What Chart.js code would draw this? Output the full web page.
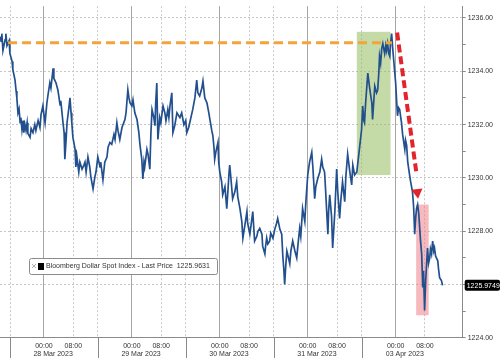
<!DOCTYPE html>
<html>
<head>
<meta charset="utf-8">
<script src="https://cdn.jsdelivr.net/npm/chart.js@4.4.0/dist/chart.umd.min.js"></script>
<style>
    html, body { margin: 0; padding: 0; background: #ffffff; }
    #wrap { width: 500px; height: 358px; }
</style>
</head>
<body>
<div id="wrap"><canvas id="chart" width="500" height="358"></canvas></div>
<script>
// hours from the left edge of the window, and the index level
var hours = [
    0.0, 0.3, 0.5, 0.8, 1.4, 1.6, 1.9, 2.5, 2.7, 3.3,
    3.5, 4.1, 4.4, 4.6, 4.9, 5.2, 5.5, 5.7, 6.0, 6.3,
    6.5, 6.8, 7.1, 7.4, 7.6, 8.2, 8.5, 9.0, 9.5, 9.8,
    10.4, 10.9, 11.2, 11.7, 12.0, 12.3, 12.8, 13.1, 13.6, 13.9,
    14.5, 14.7, 15.3, 15.8, 16.4, 16.6, 17.2, 17.5, 17.7, 18.0,
    18.3, 18.8, 19.1, 19.4, 19.6, 19.9, 20.5, 20.7, 21.0, 21.5,
    21.8, 22.4, 22.9, 23.2, 23.5, 24.0, 24.5, 24.8, 25.4, 25.9,
    26.2, 26.7, 27.3, 27.5, 28.1, 28.6, 29.2, 29.5, 30.0, 30.5,
    31.1, 31.4, 31.9, 32.2, 32.7, 33.3, 34.1, 34.4, 34.9, 35.2,
    35.5, 36.0, 36.3, 36.8, 37.4, 37.9, 38.2, 38.7, 39.0, 39.3,
    39.5, 40.1, 40.4, 40.9, 41.2, 41.5, 42.0, 42.3, 42.5, 42.8,
    43.1, 43.6, 43.9, 44.5, 45.0, 45.3, 45.8, 46.1, 46.4, 46.9,
    47.2, 47.7, 48.3, 49.1, 49.6, 50.2, 50.7, 51.0, 51.5, 51.8,
    52.4, 52.6, 53.2, 53.7, 54.0, 54.5, 55.1, 55.4, 55.9, 56.5,
    57.0, 57.3, 57.8, 58.1, 58.4, 58.6, 58.9, 59.5, 59.7, 60.0,
    60.5, 60.8, 61.4, 61.9, 62.2, 62.5, 62.7, 63.0, 63.5, 64.1,
    64.6, 64.9, 65.5, 66.0, 66.3, 66.8, 67.4, 67.6, 68.2, 68.5,
    69.0, 69.3, 69.5, 70.1, 70.4, 70.9, 71.5, 71.7, 72.3, 72.5,
    72.8, 73.1, 73.6, 73.9, 74.5, 75.0, 75.5, 75.8, 76.4, 76.9,
    77.2, 77.5, 77.7, 78.0, 78.3, 78.5, 79.1, 79.4, 79.9, 80.5,
    81.0, 81.3, 81.8, 82.1, 82.6, 83.2, 83.5, 84.0, 84.5, 85.1,
    85.4, 85.9, 86.2, 86.7, 87.3, 87.8, 88.1, 88.6, 88.9, 89.5,
    89.7, 90.0, 90.5, 90.8, 91.4, 91.9, 92.2, 92.7, 93.0, 93.5,
    94.1, 94.4, 94.9, 95.5, 96.0, 96.3, 96.8, 97.4, 98.7, 99.0,
    99.3, 99.5, 99.8, 100.4, 100.9, 101.5, 101.7, 102.0, 102.3, 102.8,
    103.1, 103.4, 103.6, 103.9, 104.2, 104.5, 105.0, 105.3, 105.5, 105.8,
    106.1, 106.4, 106.6, 106.9, 107.2, 107.7, 108.0, 108.3, 108.5, 108.8,
    109.1, 109.4, 109.6, 109.9, 110.5, 110.7, 111.0, 111.3, 111.8, 112.1,
    112.6, 112.9, 113.2, 113.5, 113.7, 114.0, 114.3, 114.5, 114.8, 115.1,
    115.4, 115.6, 115.9, 116.2, 116.5, 116.7, 117.0, 117.3, 117.5, 117.8,
    118.1, 118.4, 118.6, 118.9, 119.5, 119.7, 120.0, 120.5, 120.8
];
var prices = [
    1235.30, 1235.13, 1235.41, 1234.78, 1235.19, 1235.41, 1234.96, 1235.15, 1234.67, 1234.37,
    1234.07, 1233.67, 1233.26, 1233.00, 1232.44, 1232.59, 1232.07, 1232.26, 1231.81, 1232.15,
    1231.70, 1232.00, 1231.78, 1232.07, 1231.67, 1231.52, 1231.85, 1231.70, 1232.00, 1231.78,
    1232.15, 1231.89, 1232.37, 1232.70, 1232.37, 1232.07, 1232.81, 1233.11, 1233.56, 1233.37,
    1234.11, 1233.74, 1233.56, 1233.30, 1232.74, 1232.89, 1232.07, 1231.70, 1230.70, 1231.33,
    1232.07, 1232.63, 1233.00, 1232.44, 1232.07, 1231.52, 1231.07, 1230.41, 1230.78, 1230.22,
    1230.59, 1230.33, 1230.48, 1230.59, 1230.22, 1230.78, 1230.41, 1230.04, 1229.59, 1230.04,
    1230.22, 1230.78, 1230.41, 1230.59, 1229.93, 1230.59, 1230.78, 1231.15, 1231.33, 1231.26,
    1231.63, 1231.44, 1232.07, 1231.78, 1231.44, 1231.89, 1232.19, 1232.44, 1233.30, 1233.00,
    1232.81, 1232.70, 1232.93, 1232.44, 1232.19, 1231.70, 1231.26, 1230.70, 1229.96, 1230.59,
    1230.41, 1231.07, 1230.89, 1230.33, 1231.70, 1232.56, 1232.26, 1231.96, 1232.81, 1233.56,
    1231.44, 1232.26, 1232.07, 1232.70, 1232.44, 1232.15, 1232.56, 1232.26, 1232.70, 1233.19,
    1231.70, 1231.96, 1232.44, 1232.26, 1232.44, 1232.00, 1232.15, 1231.70, 1231.89, 1232.07,
    1232.44, 1232.56, 1233.00, 1233.67, 1233.19, 1233.07, 1233.37, 1233.63, 1233.00, 1232.81,
    1232.44, 1232.19, 1231.78, 1231.59, 1231.15, 1230.70, 1230.96, 1231.33, 1230.59, 1230.22,
    1229.85, 1229.37, 1229.67, 1228.85, 1229.48, 1230.15, 1230.48, 1230.04, 1229.22, 1229.48,
    1229.85, 1229.30, 1228.85, 1228.37, 1227.74, 1228.19, 1228.74, 1228.30, 1227.89, 1228.19,
    1228.74, 1228.07, 1227.63, 1227.81, 1228.00, 1228.11, 1227.89, 1227.44, 1227.15, 1227.44,
    1227.74, 1227.52, 1227.63, 1227.93, 1227.74, 1228.07, 1228.30, 1228.48, 1228.07, 1227.89,
    1227.07, 1226.52, 1226.00, 1226.70, 1227.26, 1227.15, 1226.78, 1227.26, 1227.63, 1227.26,
    1227.00, 1227.44, 1228.11, 1227.81, 1228.85, 1228.37, 1229.11, 1230.11, 1230.59, 1230.96,
    1230.41, 1229.22, 1229.67, 1229.96, 1230.22, 1230.70, 1230.41, 1230.22, 1229.48, 1227.89,
    1228.74, 1229.37, 1228.56, 1227.37, 1228.74, 1230.33, 1229.48, 1228.48, 1229.11, 1229.85,
    1229.11, 1230.04, 1230.89, 1230.22, 1229.74, 1230.48, 1230.11, 1230.22, 1231.81, 1232.70,
    1232.15, 1232.07, 1232.81, 1233.93, 1233.37, 1232.81, 1232.19, 1232.81, 1233.44, 1233.19,
    1233.30, 1233.93, 1234.56, 1234.30, 1234.85, 1235.04, 1234.67, 1234.96, 1234.78, 1235.04,
    1234.67, 1234.56, 1235.04, 1235.41, 1234.85, 1234.04, 1233.56, 1232.81, 1232.33, 1232.63,
    1232.56, 1232.26, 1232.07, 1231.63, 1231.07, 1231.41, 1231.22, 1230.59, 1230.11, 1229.85,
    1229.48, 1228.93, 1227.89, 1228.56, 1228.85, 1229.00, 1228.67, 1228.26, 1227.63, 1227.15,
    1225.89, 1226.52, 1225.03, 1226.15, 1226.89, 1227.37, 1226.81, 1227.00, 1227.33, 1227.15,
    1227.63, 1227.26, 1227.37, 1227.07, 1226.89, 1226.59, 1226.26, 1226.15, 1225.97
];

// x axis: 00:00 and 08:00 marks, date separators and date labels (hours)
var midnightTicks = [12, 36, 60, 84, 108];
var morningTicks = [20, 44, 68, 92, 116];
var dateSeparators = [2.75, 26.75, 50.75, 74.75, 98.75];
var dateCentres = [14.5, 38.5, 62.5, 86.5, 110.5];
var dateLabels = ['28 Mar 2023', '29 Mar 2023', '30 Mar 2023', '31 Mar 2023', '03 Apr 2023'];
var yTicks = [1224, 1225, 1226, 1227, 1228, 1229, 1230, 1231, 1232, 1233, 1234, 1235, 1236];
var yMin = 1224;
var yMax = 1236.44;

var seriesName = 'Bloomberg Dollar Spot Index - Last Price';
var legendValue = '1225.9631';
var lastPrice = 1225.9749;

// annotations drawn on top of the series (hours / index level)
var resistanceLevel = 1235.07;
var resistanceHours = [2.2, 107.0];
var arrowShaft = [[108.4, 1235.45], [113.7, 1230.15]];
var arrowTip = [113.9, 1229.46];
var greenBox = [97.4, 106.6, 1230.11, 1235.48];
var redBox = [113.6, 117.0, 1224.85, 1229.0];

var fontFamily = '"Liberation Sans", Arial, sans-serif';

function buildXTicks(scale) {
    var list = [];
    for (var i = 0; i < dateSeparators.length; i++) {
        list.push({ value: dateSeparators[i], kind: 'sep', text: '' });
        list.push({ value: midnightTicks[i], kind: 'mid', text: '00:00' });
        list.push({ value: dateCentres[i], kind: 'date', text: ['', dateLabels[i]] });
        list.push({ value: morningTicks[i], kind: 'am', text: '08:00' });
    }
    list.sort(function (a, b) { return a.value - b.value; });
    scale.ticks = list;
}

function buildYTicks(scale) {
    var list = yTicks.map(function (v) { return { value: v }; });
    // unlabelled bound, keeps the axis from reserving room above the top label
    list.push({ value: yMax, bound: true });
    scale.ticks = list;
}

function kindOf(ctx) {
    if (!ctx.tick) return '';
    return ctx.tick.kind || '';
}

var extrasPlugin = {
    id: 'extras',
    beforeDatasetsDraw: function (chart) {
        var ctx = chart.ctx;
        var x = chart.scales.x;
        var y = chart.scales.y;
        var boxes = [[greenBox, 'rgba(150, 190, 95, 0.55)'], [redBox, 'rgba(236, 128, 136, 0.55)']];
        ctx.save();
        boxes.forEach(function (b) {
            var x1 = x.getPixelForValue(b[0][0]);
            var x2 = x.getPixelForValue(b[0][1]);
            var y1 = y.getPixelForValue(b[0][3]);
            var y2 = y.getPixelForValue(b[0][2]);
            ctx.fillStyle = b[1];
            ctx.fillRect(x1, y1, x2 - x1, y2 - y1);
        });
        ctx.restore();
    },
    afterDraw: function (chart) {
        var ctx = chart.ctx;
        var area = chart.chartArea;
        var x = chart.scales.x;
        var y = chart.scales.y;
        ctx.save();

        // long separator ticks under the axis
        ctx.strokeStyle = '#8a8a8a';
        ctx.lineWidth = 1;
        dateSeparators.forEach(function (h) {
            var px = Math.round(x.getPixelForValue(h)) + 0.5;
            ctx.beginPath();
            ctx.moveTo(px, area.bottom);
            ctx.lineTo(px, chart.height);
            ctx.stroke();
        });

        // legend box
        var lx = area.left + 29, ly = 258, lw = 188, lh = 16;
        ctx.fillStyle = '#ffffff';
        ctx.strokeStyle = '#8c8c8c';
        ctx.beginPath();
        ctx.roundRect(lx + 0.5, ly + 0.5, lw, lh, 2);
        ctx.fill();
        ctx.stroke();
        ctx.strokeStyle = '#b0b0b0';
        ctx.beginPath();
        ctx.moveTo(lx + 3, ly + 6); ctx.lineTo(lx + 7, ly + 10);
        ctx.moveTo(lx + 7, ly + 6); ctx.lineTo(lx + 3, ly + 10);
        ctx.stroke();
        ctx.fillStyle = '#000000';
        ctx.fillRect(lx + 9, ly + 5, 6, 7);
        ctx.fillStyle = '#333333';
        ctx.font = '7px ' + fontFamily;
        ctx.textBaseline = 'middle';
        ctx.textAlign = 'left';
        ctx.fillText(seriesName + '  ' + legendValue, lx + 17, ly + 8.5);

        // last price tag on the right axis
        var py = y.getPixelForValue(lastPrice);
        ctx.fillStyle = '#000000';
        ctx.beginPath();
        ctx.roundRect(area.right + 2, py - 5.5, chart.width - area.right - 2, 11, 2);
        ctx.fill();
        ctx.fillStyle = '#ffffff';
        ctx.fillText(lastPrice.toFixed(4), area.right + 4, py + 0.5);
        ctx.restore();
    }
};

var points = hours.map(function (h, i) { return { x: h, y: prices[i] }; });

new Chart(document.getElementById('chart'), {
    type: 'line',
    data: {
        datasets: [
            {
                data: points,
                borderColor: '#22508e',
                borderWidth: 1.7,
                pointRadius: 0,
                tension: 0,
                order: 3
            },
            {
                data: [{ x: resistanceHours[0], y: resistanceLevel }, { x: resistanceHours[1], y: resistanceLevel }],
                borderColor: '#f2a43a',
                borderWidth: 3,
                borderDash: [9, 5],
                pointRadius: 0,
                order: 2
            },
            {
                data: [{ x: arrowShaft[0][0], y: arrowShaft[0][1] }, { x: arrowShaft[1][0], y: arrowShaft[1][1] }],
                borderColor: '#e2252d',
                borderWidth: 4,
                borderDash: [8, 4],
                pointRadius: 0,
                order: 1
            },
            {
                data: [{ x: arrowTip[0], y: arrowTip[1] }],
                showLine: false,
                pointStyle: 'triangle',
                pointRadius: 6.5,
                pointRotation: 173,
                backgroundColor: '#e2252d',
                borderColor: '#e2252d',
                borderWidth: 0,
                order: 0
            }
        ]
    },
    options: {
        responsive: false,
        animation: false,
        devicePixelRatio: 1,
        layout: { autoPadding: false, padding: { left: 0, right: 5, top: 0, bottom: 0 } },
        plugins: {
            legend: { display: false },
            tooltip: { enabled: false }
        },
        scales: {
            x: {
                type: 'linear',
                min: 0,
                max: 126.3,
                afterBuildTicks: buildXTicks,
                ticks: {
                    autoSkip: false,
                    maxRotation: 0,
                    padding: 0,
                    color: '#333333',
                    font: { family: fontFamily, size: 7, lineHeight: 1.15 },
                    callback: function (value, index, ticks) { return ticks[index].text; }
                },
                grid: {
                    color: function (ctx) {
                        var k = kindOf(ctx);
                        if (k == 'mid') return '#a6a6a6';
                        if (k == 'am' || k == 'sep') return '#c6c6c6';
                        return 'rgba(0,0,0,0)';
                    },
                    tickColor: 'rgba(0,0,0,0)',
                    tickLength: 4
                },
                border: {
                    display: true,
                    color: '#8a8a8a',
                    dash: function (ctx) {
                        var k = kindOf(ctx);
                        return (k == 'am' || k == 'sep') ? [2, 2] : [];
                    }
                }
            },
            y: {
                position: 'right',
                min: yMin,
                max: yMax,
                afterBuildTicks: buildYTicks,
                ticks: {
                    padding: 2,
                    color: '#333333',
                    font: { family: fontFamily, size: 7 },
                    callback: function (value, index, ticks) {
                        if (ticks[index].bound) return null;
                        return value % 2 == 0 ? value.toFixed(2) : '';
                    }
                },
                grid: {
                    color: function (ctx) {
                        if (!ctx.tick || ctx.tick.bound) return 'rgba(0,0,0,0)';
                        return ctx.tick.value % 2 == 0 ? '#c6c6c6' : 'rgba(0,0,0,0)';
                    },
                    tickColor: function (ctx) {
                        if (ctx.tick && ctx.tick.bound) return 'rgba(0,0,0,0)';
                        return '#8a8a8a';
                    },
                    tickLength: 3
                },
                border: { display: true, color: '#8a8a8a', dash: [2, 2] }
            }
        }
    },
    plugins: [extrasPlugin]
});
</script>
</body>
</html>
